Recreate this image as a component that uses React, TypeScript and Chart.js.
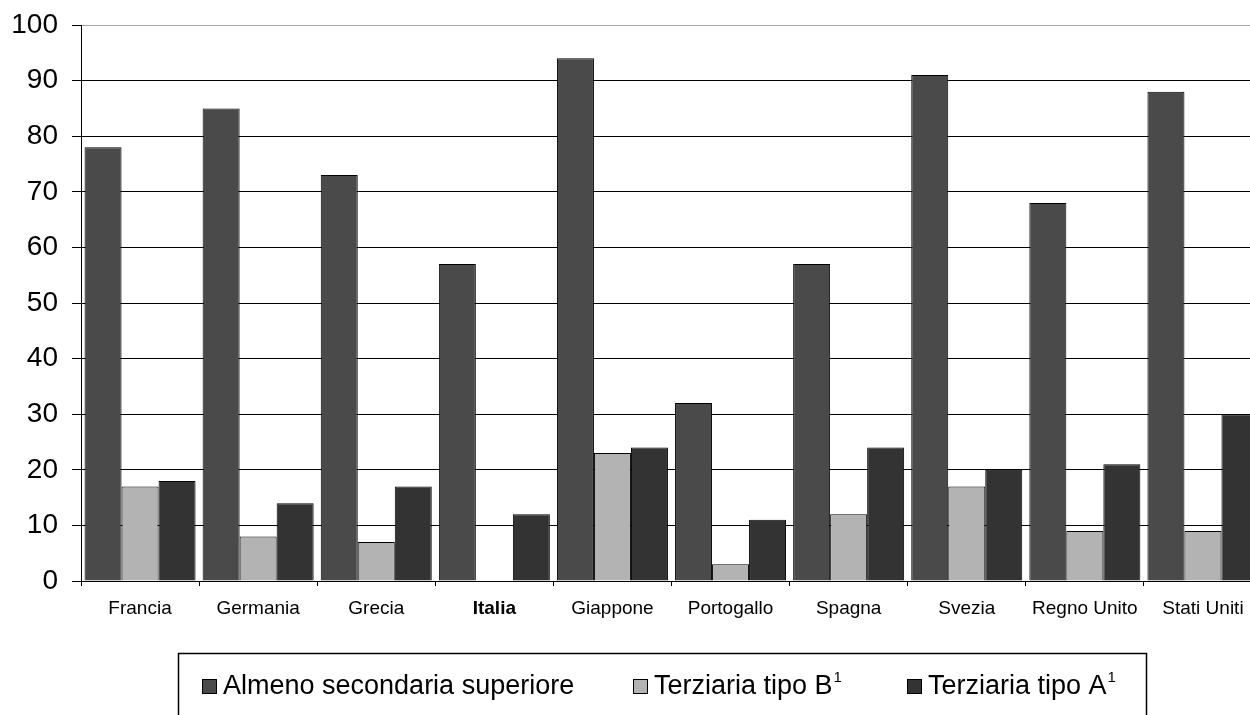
import React, { useEffect, useRef } from "react";
import { Chart, registerables } from "chart.js";

Chart.register(...registerables);

const categories = [
  "Francia",
  "Germania",
  "Grecia",
  "Italia",
  "Giappone",
  "Portogallo",
  "Spagna",
  "Svezia",
  "Regno Unito",
  "Stati Uniti",
];

const almenoSecondaria = [78, 85, 73, 57, 94, 32, 57, 91, 68, 88];
const terziariaB = [17, 8, 7, 0, 23, 3, 12, 17, 9, 9];
const terziariaA = [18, 14, 17, 12, 24, 11, 24, 20, 21, 30];

const seriesLabels = ["Almeno secondaria superiore", "Terziaria tipo B", "Terziaria tipo A"];
const seriesSuperscripts = ["", "1", "1"];
const seriesColors = ["#4a4a4a", "#b3b3b3", "#333333"];
const yTicks = [0, 10, 20, 30, 40, 50, 60, 70, 80, 90, 100];

const FONT = '"Liberation Sans", Arial, Helvetica, sans-serif';

const legendBoxPlugin = {
  id: "legendBox",
  afterDraw(chart: any) {
    const ctx = chart.ctx;
    ctx.save();
    ctx.strokeStyle = "#000";
    ctx.lineWidth = 1.5;
    ctx.strokeRect(178.5, 653.5, 968, 90);
    const squares = [202, 633, 907];
    const cy = 687;
    chart.data.datasets.forEach((ds: any, i: number) => {
      const sx = squares[i];
      ctx.fillStyle = ds.backgroundColor;
      ctx.fillRect(sx, cy - 8, 15, 15);
      ctx.strokeStyle = "#000";
      ctx.lineWidth = 1;
      ctx.strokeRect(sx + 0.5, cy - 7.5, 14, 14);
      ctx.fillStyle = "#000";
      ctx.font = `27px ${FONT}`;
      ctx.textBaseline = "middle";
      ctx.textAlign = "left";
      const tx = sx + 21;
      ctx.fillText(ds.label, tx, cy);
      const sup = seriesSuperscripts[i];
      if (sup) {
        const w = ctx.measureText(ds.label).width;
        ctx.font = `15px ${FONT}`;
        ctx.fillText(sup, tx + w + 1, cy - 9);
      }
    });
    ctx.restore();
  },
};

export default function App() {
  const canvasRef = useRef<HTMLCanvasElement | null>(null);

  useEffect(() => {
    document.body.style.margin = "0";
    Chart.defaults.font.family = FONT;
    Chart.defaults.color = "#000";
    const canvas = canvasRef.current;
    if (!canvas) return;
    const datasets = [almenoSecondaria, terziariaB, terziariaA].map((data, i) => ({
      label: seriesLabels[i],
      data,
      backgroundColor: seriesColors[i],
      borderColor: "#000",
      borderWidth: 1,
      categoryPercentage: 0.94,
      barPercentage: 1,
    }));
    const chart = new Chart(canvas, {
      type: "bar",
      data: { labels: categories, datasets },
      plugins: [legendBoxPlugin],
      options: {
        responsive: false,
        animation: false,
        devicePixelRatio: 1,
        layout: { padding: { left: 11, top: 25, right: 8, bottom: 94 } },
        plugins: {
          legend: { display: false },
          tooltip: { enabled: false },
        },
        scales: {
          x: {
            offset: true,
            grid: {
              offset: true,
              drawOnChartArea: false,
              drawTicks: true,
              tickLength: 5,
              color: "#000",
            },
            border: { display: true, color: "#000", width: 1 },
            ticks: {
              padding: 11,
              maxRotation: 0,
              autoSkip: false,
              color: "#000",
              font: (c: any) => ({
                size: 19,
                family: FONT,
                weight: c.tick && c.tick.label === "Italia" ? "bold" : "normal",
              }),
            },
            afterFit: (s: any) => {
              s.height = 40;
              s.paddingLeft = 0;
              s.paddingRight = 0;
            },
          },
          y: {
            min: 0,
            max: 100,
            afterBuildTicks: (s: any) => {
              s.ticks = yTicks.map((v) => ({ value: v }));
            },
            grid: {
              color: (c: any) => (c.tick && c.tick.value === 100 ? "#a8a8a8" : "#000"),
              tickColor: "#000",
              tickLength: 9,
              lineWidth: 1,
            },
            border: { display: true, color: "#000", width: 1 },
            ticks: {
              padding: 14,
              color: "#000",
              font: { size: 28, family: FONT },
            },
            afterFit: (s: any) => {
              s.width = 70;
              s.paddingTop = 0;
              s.paddingBottom = 0;
            },
          },
        },
      },
    });
    return () => chart.destroy();
  }, []);

  return (
    <div style={{ position: "relative", width: 1250, height: 715, overflow: "hidden", background: "#fff" }}>
      <canvas ref={canvasRef} width={1270} height={715} style={{ display: "block", width: 1270, height: 715 }} />
    </div>
  );
}
